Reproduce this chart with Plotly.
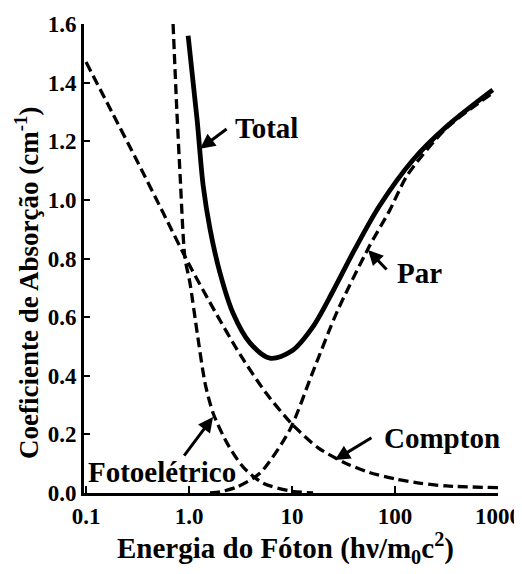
import plotly.graph_objects as go
import math

# ---- data ----
compton_E = [0.1, 0.178, 0.316, 0.562, 1.0, 1.78, 3.16, 5.62, 10, 17.8, 31.6, 56.2, 100, 178, 316, 1000]
compton_mu = [1.47, 1.30, 1.13, 0.955, 0.78, 0.62, 0.47, 0.34, 0.235, 0.155, 0.105, 0.07, 0.048, 0.033, 0.024, 0.018]

photo_E = [0.70, 0.76, 0.82, 0.91, 1.02, 1.2, 1.43, 1.71, 2.34, 3.34, 5.2, 9.5, 16]
photo_mu = [1.60, 1.31, 1.08, 0.805, 0.717, 0.546, 0.375, 0.273, 0.17, 0.089, 0.034, 0.007, 0.0]

par_E = [1.6, 2.0, 2.9, 4.9, 9.5, 15.8, 27.5, 56, 89, 132, 316, 890]
par_mu = [0.0, 0.004, 0.02, 0.068, 0.215, 0.41, 0.62, 0.84, 0.965, 1.085, 1.245, 1.365]

total_E = [0.98, 1.2, 1.37, 1.6, 2.0, 2.67, 3.9, 6.1, 10, 15.8, 25.1, 39.8, 70.8, 150, 316, 890]
total_mu = [1.56, 1.27, 1.05, 0.90, 0.75, 0.614, 0.512, 0.46, 0.485, 0.565, 0.69, 0.825, 0.98, 1.137, 1.25, 1.375]

x_ticks = [0.1, 1, 10, 100, 1000]
x_ticktext = ["0.1", "1.0", "10", "100", "1000"]
y_ticks = [0.0, 0.2, 0.4, 0.6, 0.8, 1.0, 1.2, 1.4, 1.6]

FONT = "Liberation Serif"
dash = "10px,5px"

fig = go.Figure()
for xs, ys in [(compton_E, compton_mu), (photo_E, photo_mu), (par_E, par_mu)]:
    fig.add_trace(go.Scatter(x=xs, y=ys, mode="lines", cliponaxis=False,
                             line=dict(color="black", width=3.3, dash=dash, shape="spline", smoothing=0.7),
                             showlegend=False, hoverinfo="skip"))
fig.add_trace(go.Scatter(x=total_E, y=total_mu, mode="lines", cliponaxis=False,
                         line=dict(color="black", width=4.8, shape="spline", smoothing=0.9),
                         showlegend=False, hoverinfo="skip"))

lbl_font = dict(family=FONT, size=29, color="black", weight="bold")

def text(x, y, s, xanchor="left"):
    fig.add_annotation(x=math.log10(x), y=y, text=s, showarrow=False, xanchor=xanchor,
                       yanchor="middle", font=lbl_font)

def arrow(x, y, ax, ay):
    fig.add_annotation(x=math.log10(x), y=y, text="", showarrow=True, arrowhead=2,
                       arrowsize=1.0, arrowwidth=3, arrowcolor="black", ax=ax, ay=ay, standoff=0)

text(2.67, 1.246, "Total")
arrow(1.28, 1.174, 28, -21)
text(100, 0.751, "Par")
arrow(54.7, 0.829, 20, 21)
text(74.8, 0.188, "Compton")
arrow(26.1, 0.113, 38, -23)
text(0.547, 0.072, "Fotoelétrico", xanchor="center")
arrow(1.71, 0.259, -30, 40)

# axis titles
fig.add_annotation(xref="paper", yref="paper", x=(27 - 84) / 414, y=(493 - 283) / 469,
                   text="Coeficiente de Absorção (cm<sup>-1</sup>)", textangle=-90,
                   showarrow=False, xanchor="center", yanchor="middle",
                   font=dict(family=FONT, size=27, color="black", weight="bold"))
fig.add_annotation(xref="paper", yref="paper", x=(285 - 84) / 414, y=-(548 - 493) / 469,
                   text="Energia do Fóton (hν/m<sub>0</sub>c<sup>2</sup>)",
                   showarrow=False, xanchor="center", yanchor="middle",
                   font=dict(family=FONT, size=29, color="black", weight="bold"))

tick_font = dict(family=FONT, size=23, color="black", weight="bold")
# page body has an 8px margin, so the figure is sized/margined to compensate
fig.update_layout(
    width=514, height=566,
    margin=dict(l=76, r=24, t=16, b=81),
    paper_bgcolor="white", plot_bgcolor="white",
    xaxis=dict(type="log", range=[-1.02, 3.0], tickvals=x_ticks, ticktext=x_ticktext,
               ticks="inside", ticklen=7, tickwidth=2, tickcolor="black", automargin=False,
               showline=True, linewidth=3, linecolor="black", showgrid=False, zeroline=False,
               tickfont=tick_font),
    yaxis=dict(range=[0, 1.6], tickvals=y_ticks, tickformat=".1f", automargin=False,
               ticks="inside", ticklen=6, tickwidth=2, tickcolor="black",
               showline=True, linewidth=3, linecolor="black", showgrid=False, zeroline=False,
               tickfont=tick_font),
)

fig.write_html("out.html")
